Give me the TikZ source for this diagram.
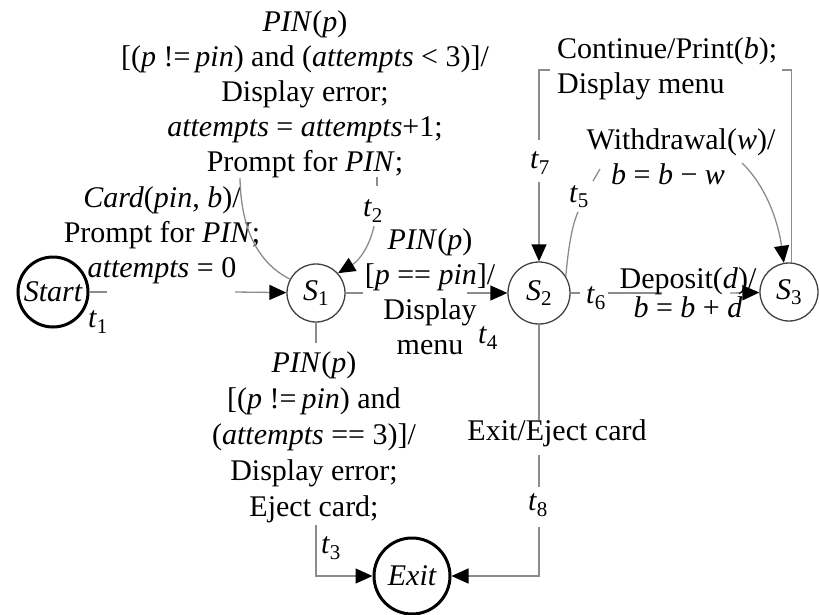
\documentclass[tikz,border=0pt]{standalone}
\usepackage{fontspec}
\setmainfont{Liberation Serif}
\usetikzlibrary{arrows.meta}
\newcommand{\subl}[2]{\textit{#1}\textsubscript{#2}}
\begin{document}
\begin{tikzpicture}[x=1pt,y=-1pt,
  conn/.style={draw=black!45, line width=1.3pt},
  arr/.style={-{Triangle[length=17pt,width=15pt,color=black]}},
  lbl/.style={font=\fontsize{30}{35}\selectfont, align=center, inner sep=0pt},
  stat/.style={circle, draw=black!75, line width=1.3pt, inner sep=0pt, font=\fontsize{30}{35}\selectfont},
  term/.style={circle, draw=black, line width=3pt, inner sep=0pt, font=\fontsize{30}{35}\selectfont\itshape},
]
\useasboundingbox (0,0) rectangle (819,614);

% states
\node[term, minimum size=70pt] (start) at (53,292) {Start};
\node[stat, minimum size=58pt] (s1) at (316,293) {\subl{S}{1}};
\node[stat, minimum size=62pt] (s2) at (539,293) {\subl{S}{2}};
\node[stat, minimum size=58pt] (s3) at (789,292) {\subl{S}{3}};
\node[term, minimum size=76pt] (exit) at (412,576) {Exit};

% t1
\coordinate (t1a) at (107,292);
\coordinate (t1b) at (235,292);
\draw[conn] (start) -- (t1a);
\draw[conn,arr] (t1b) -- (s1);
\node[lbl] (lt1) at (98,322) {\subl{t}{1}};
\node[lbl] (lcard) at (162,235) {\textit{Card}(\textit{pin}, \textit{b})/\\Prompt for \textit{PIN};\\\textit{attempts} = 0};

% t2 self loop
\coordinate (l2a) at (240,178);
\coordinate (l2b) at (377,177);
\coordinate (l2c) at (377,186);
\coordinate (l2d) at (374,226);
\draw[conn] (l2a) .. controls (241,235) and (262,265) .. (s1.152);
\draw[conn] (l2b) -- (l2c);
\draw[conn,arr] (l2d) .. controls (370,245) and (360,260) .. (s1.42);
\node[lbl] (lt2) at (373,211) {\subl{t}{2}};
\node[lbl] (ltop) at (305,94) {\textit{PIN}(\textit{p})\\{}[(\textit{p} !=\,\textit{pin}) and (\textit{attempts} < 3)]/\\Display error;\\\textit{attempts} = \textit{attempts}+1;\\Prompt for \textit{PIN};};

% t4
\coordinate (a4) at (363,293);
\coordinate (b4) at (467,293);
\draw[conn] (s1) -- (a4);
\draw[conn,arr] (b4) -- (s2);
\node[lbl] (lpin4) at (430,292) {\textit{PIN}(\textit{p})\\{}[\textit{p} == \textit{pin}]/\\Display\\menu};
\node[lbl] (lt4) at (488,338) {\subl{t}{4}};

% t6
\coordinate (a6) at (580,293);
\coordinate (b6) at (608,293);
\coordinate (c6) at (662,293);
\coordinate (d6) at (730,293);
\draw[conn] (s2) -- (a6);
\draw[conn] (b6) -- (c6);
\draw[conn,arr] (d6) -- (s3);
\node[lbl] (lt6) at (596,298) {\subl{t}{6}};
\node[lbl, font=\fontsize{30}{29}\selectfont] (ldep) at (688,293) {Deposit(\textit{d})/\\\textit{b} = \textit{b} + \textit{d}};

% t5
\coordinate (t5a) at (578,212);
\coordinate (t5b) at (593,181);
\coordinate (t5c) at (600,169);
\coordinate (t5d) at (742,163);
\draw[conn] (s2.32) .. controls (568,250) and (572,225) .. (t5a);
\draw[conn] (t5b) -- (t5c);
\draw[conn,arr] (t5d) .. controls (765,185) and (778,220) .. (s3.100);
\node[lbl] (lt5) at (579,197) {\subl{t}{5}};
\node[lbl] (lwd) at (681,157) {Withdrawal(\textit{w})/\\\textit{b} = \textit{b} − \textit{w}\hspace*{26pt}};

% t7
\coordinate (t7a) at (782,70);
\coordinate (t7b) at (550,70);
\coordinate (t7c) at (539,140);
\coordinate (t7d) at (539,182);
\draw[conn] (s3.85) |- (t7a);
\draw[conn] (t7b) -| (t7c);
\draw[conn,arr] (t7d) -- (s2);
\node[lbl] (lt7) at (540,163) {\subl{t}{7}};
\node[lbl, align=left, anchor=west] (lcont) at (557,69) {Continue/Print(\textit{b});\\Display menu};

% t8
\coordinate (t8a) at (539,420);
\coordinate (t8b) at (539,455);
\coordinate (t8c) at (539,487);
\coordinate (t8d) at (539,527);
\draw[conn] (s2) -- (t8a);
\draw[conn] (t8b) -- (t8c);
\draw[conn,arr] (t8d) |- (exit);
\node[lbl] (lexit) at (557,433) {Exit/Eject card};
\node[lbl] (lt8) at (538,505) {\subl{t}{8}};

% t3
\coordinate (a3) at (316,343);
\coordinate (b3) at (316,525);
\draw[conn] (s1) -- (a3);
\draw[conn,arr] (b3) |- (exit);
\node[lbl, font=\fontsize{30}{36}\selectfont] (lt3txt) at (314,437) {\textit{PIN}(\textit{p})\\{}[(\textit{p} !=\,\textit{pin}) and\\(\textit{attempts} == 3)]/\\Display error;\\Eject card;};
\node[lbl] (lt3) at (331,548) {\subl{t}{3}};
\end{tikzpicture}
\end{document}
